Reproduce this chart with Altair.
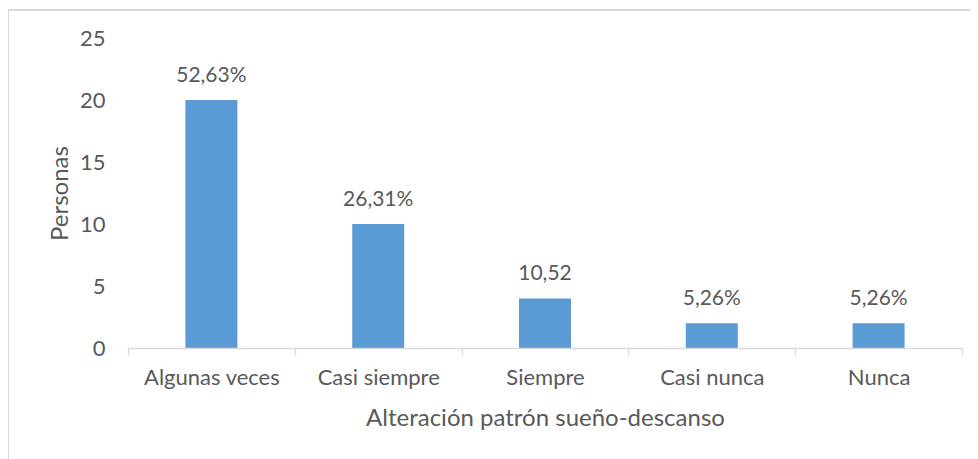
import altair as alt
import pandas as pd

categories = ["Algunas veces", "Casi siempre", "Siempre", "Casi nunca", "Nunca"]
personas = [20, 10, 4, 2, 2]
etiquetas = ["52,63%", "26,31%", "10,52", "5,26%", "5,26%"]

df = pd.DataFrame({"cat": categories, "val": personas, "lbl": etiquetas})

FONT = "Lato"
TXT = "#595959"

x = alt.X("cat:N", sort=categories, title="Alteración patrón sueño-descanso",
          scale=alt.Scale(paddingInner=0, paddingOuter=0),
          axis=alt.Axis(labelAngle=0, tickBand="extent", domainColor="#d9d9d9",
                        tickColor="#d9d9d9", tickSize=7, domainWidth=1.3, tickWidth=1.3,
                        labelPadding=12, titlePadding=18, zindex=1,
                        labelFontSize=22, titleFontSize=24))
y = alt.Y("val:Q", title="Personas",
          scale=alt.Scale(domain=[0, 25]),
          axis=alt.Axis(values=[0, 5, 10, 15, 20, 25], domain=False, ticks=False, grid=False,
                        labelPadding=23, titlePadding=7, zindex=1,
                        labelFontSize=22, titleFontSize=24))

border = alt.Chart(df).mark_rect(fillOpacity=0, stroke="#d9d9d9", strokeWidth=2).encode(
    x=alt.value(-120), x2=alt.value(900), y=alt.value(-28), y2=alt.value(500)
)

bars = alt.Chart(df).mark_bar(color="#5B9BD5", size=52).encode(x=x, y=y)
labels = alt.Chart(df).mark_text(dy=-14, baseline="bottom", fontSize=21, font=FONT, color=TXT).encode(
    x=x, y=y, text="lbl:N"
)

chart = alt.layer(border, bars, labels).properties(
    width=834, height=310,
    autosize=alt.AutoSizeParams(type="none"),
    padding={"left": 120, "top": 30, "right": 8, "bottom": 111},
).configure_view(stroke=None).configure_axis(
    labelFont=FONT, titleFont=FONT, labelColor=TXT, titleColor=TXT, titleFontWeight="normal"
)

chart.save("out.html", embed_options={"renderer": "svg", "actions": False})
